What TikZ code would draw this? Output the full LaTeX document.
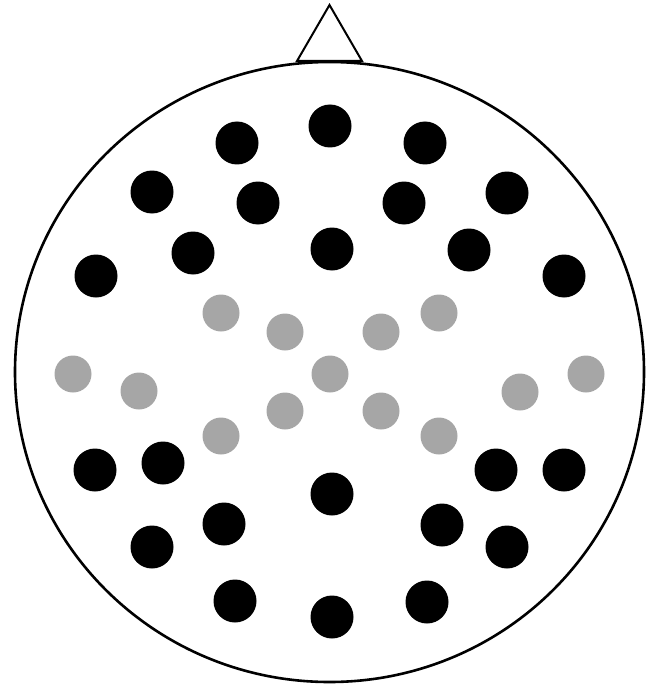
\documentclass[tikz,border=0pt]{standalone}
\definecolor{elecgray}{RGB}{166,166,166}
\begin{document}
\begin{tikzpicture}[x=1pt, y=-1pt,
    elec/.style={circle, fill=black, inner sep=0pt, minimum size=43pt},
    ref/.style={circle, fill=elecgray, inner sep=0pt, minimum size=37pt}]
        \useasboundingbox (0,0) rectangle (652,687);
        
        % head and nose
        \draw[line width=2.6pt] (329.5,372) ellipse [x radius=314.5, y radius=310];
        \draw[line width=2pt, line join=miter, fill=white] (297,61) -- (329.5,5) -- (362,61) -- cycle;
        
        % black electrodes
        \foreach \x/\y [count=\i] in {237/143, 330/126, 425/143,
                152/192, 258/203, 404/203, 507/193,
                96/276, 193/253, 332/249, 469/250, 564/276,
                95/470, 163/463, 496/470, 564/470,
                332/494, 224/524, 442/525, 152/547, 507/547,
                235/601, 427/602, 332/617}
            \node[elec] (b\i) at (\x,\y) {};
        
        % gray electrodes
        \foreach \x/\y [count=\i] in {221/313, 439/313, 285/332, 381/332,
                73/374, 330/374, 586/374, 139/391, 520/392,
                285/411, 381/411, 221/436, 439/436}
            \node[ref] (g\i) at (\x,\y) {};
    \end{tikzpicture}
\end{document}
